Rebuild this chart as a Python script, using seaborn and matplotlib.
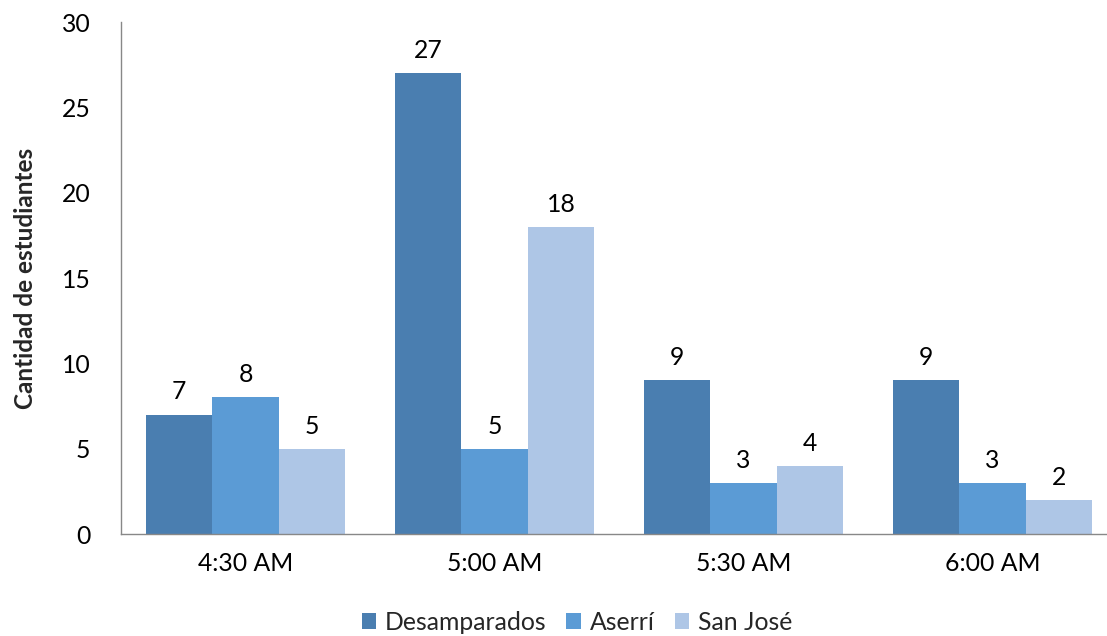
import matplotlib
matplotlib.use("Agg")
import matplotlib.pyplot as plt
import seaborn as sns
import pandas as pd

categories = ["4:30 AM", "5:00 AM", "5:30 AM", "6:00 AM"]
series = ["Desamparados", "Aserrí", "San José"]
desamparados = [7, 27, 9, 9]
aserri = [8, 5, 3, 3]
san_jose = [5, 18, 4, 2]
colors = ["#4A7EB0", "#5B9BD5", "#AEC6E6"]

rows = []
for s, vals in zip(series, [desamparados, aserri, san_jose]):
    for c, v in zip(categories, vals):
        rows.append({"Hora": c, "Lugar": s, "Cantidad": v})
df = pd.DataFrame(rows)

sns.set_theme(style="white")
plt.rcParams["font.family"] = ["Lato", "DejaVu Sans"]

FS = 17.8

fig = plt.figure(figsize=(11.07, 6.36), dpi=100)
ax = fig.add_axes([121 / 1107, 1 - 534 / 636, 996 / 1107, 512 / 636])

sns.barplot(data=df, x="Hora", y="Cantidad", hue="Lugar", order=categories,
            hue_order=series, palette=colors, width=0.8, saturation=1,
            linewidth=0, ax=ax)

for cont in ax.containers:
    ax.bar_label(cont, fmt="%d", padding=8, fontsize=FS, color="#000000")

ax.set_ylim(0, 30)
ax.set_xlim(-0.5, 3.5)
ax.set_yticks([0, 5, 10, 15, 20, 25, 30])
ax.tick_params(axis="both", length=0, labelsize=FS, colors="#000000")
ax.tick_params(axis="x", pad=13)
ax.tick_params(axis="y", pad=22)
ax.set_xlabel("")
ax.set_ylabel("Cantidad de estudiantes", fontsize=17.5, fontweight="bold", labelpad=18)

for side in ["top", "right"]:
    ax.spines[side].set_visible(False)
for side in ["left", "bottom"]:
    ax.spines[side].set_color("#888888")
    ax.spines[side].set_linewidth(1.0)

handles, labels = ax.get_legend_handles_labels()
ax.legend(handles, labels, loc="center", bbox_to_anchor=(577 / 1107, 1 - 622 / 636),
          bbox_transform=fig.transFigure, ncol=3, frameon=False, fontsize=FS,
          handlelength=0.6, handleheight=0.6, handletextpad=0.35, columnspacing=0.8)

fig.savefig("out.png", dpi=100)
